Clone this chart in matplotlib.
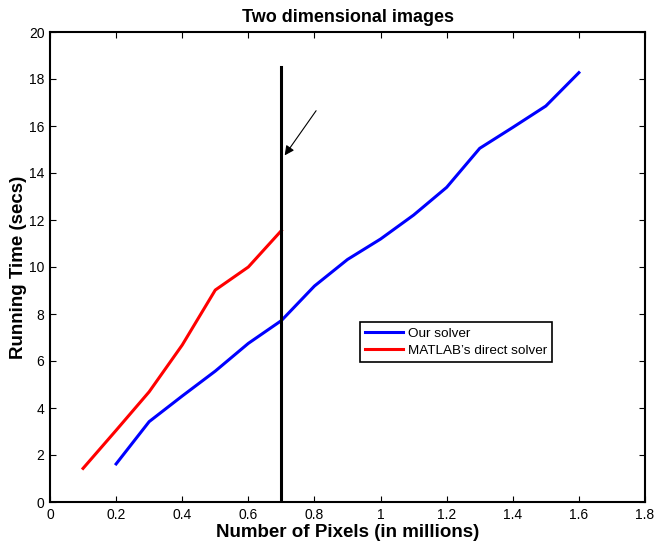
import matplotlib
matplotlib.use("Agg")
import matplotlib.pyplot as plt

plt.rcParams['font.family'] = ['Liberation Sans', 'DejaVu Sans']

pixels_ours = [0.2, 0.3, 0.4, 0.5, 0.6, 0.7, 0.8, 0.9, 1.0, 1.1, 1.2, 1.3, 1.4, 1.5, 1.6]
time_ours = [1.62, 3.42, 4.51, 5.57, 6.75, 7.72, 9.19, 10.32, 11.19, 12.21, 13.39, 15.05, 15.94, 16.85, 18.27]

pixels_matlab = [0.1, 0.2, 0.3, 0.4, 0.5, 0.6, 0.7]
time_matlab = [1.43, 3.05, 4.69, 6.68, 9.02, 10.0, 11.55]

xticks = [0, 0.2, 0.4, 0.6, 0.8, 1, 1.2, 1.4, 1.6, 1.8]
xticklabels = ['0', '0.2', '0.4', '0.6', '0.8', '1', '1.2', '1.4', '1.6', '1.8']
yticks = [0, 2, 4, 6, 8, 10, 12, 14, 16, 18, 20]

cutoff_x = 0.7
cutoff_top = 18.5

fig = plt.figure(figsize=(6.57, 5.42), dpi=100)
ax = fig.add_axes([50/657, 1-502/542, 595/657, 470/542])

ax.plot(pixels_ours, time_ours, color='#0000ff', lw=2.2, label='Our solver')
ax.plot(pixels_matlab, time_matlab, color='#ff0000', lw=2.2, label="MATLAB\u2019s direct solver")
ax.plot([cutoff_x, cutoff_x], [0, cutoff_top], color='black', lw=2.2)

ax.annotate('', xy=(0.71, 14.75), xytext=(0.805, 16.65),
            arrowprops=dict(arrowstyle='-|>', color='black', lw=0.8,
                            mutation_scale=14, shrinkA=0, shrinkB=0))

ax.set_xlim(0, 1.8)
ax.set_ylim(0, 20)
ax.set_xticks(xticks)
ax.set_xticklabels(xticklabels)
ax.set_yticks(yticks)
ax.tick_params(direction='in', top=True, right=True, labelsize=10, length=4, width=0.8, pad=4)
for s in ax.spines.values():
    s.set_linewidth(1.5)

ax.set_title('Two dimensional images', fontsize=13, fontweight='bold', pad=7)
ax.set_xlabel('Number of Pixels (in millions)', fontsize=13.5, fontweight='bold', labelpad=2)
ax.set_ylabel('Running Time (secs)', fontsize=13.5, fontweight='bold', labelpad=1)

leg = ax.legend(loc='upper left', bbox_to_anchor=(0.521, 0.383), borderaxespad=0,
                fontsize=9.7, fancybox=False, edgecolor='black', framealpha=1,
                handlelength=2.8, handletextpad=0.35, borderpad=0.4, labelspacing=0.35)
leg.get_frame().set_linewidth(1.2)

fig.savefig('out.png', dpi=100)
